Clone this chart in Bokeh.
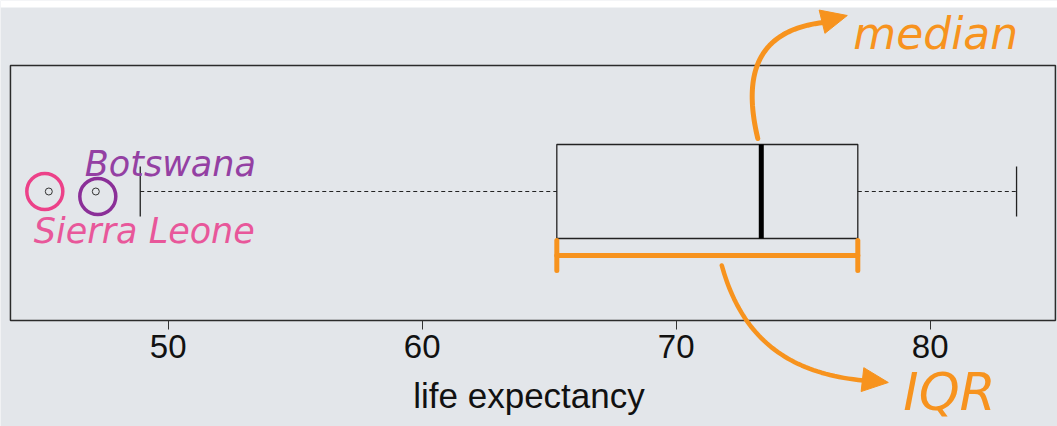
import numpy as np
from bokeh.plotting import figure
from bokeh.models import Range1d, FixedTicker, Label
from bokeh.embed import file_html
from bokeh.resources import INLINE

# ---------------- data ----------------
stat_names = ["lower whisker", "Q1", "median", "Q3", "upper whisker"]
stat_values = [48.9, 65.3, 73.35, 77.15, 83.4]
outlier_countries = ["Sierra Leone", "Botswana"]
outlier_values = [45.3, 47.15]
tick_values = [50, 60, 70, 80]
x_label = "life expectancy"
note_median = "median"
note_iqr = "IQR"

low, q1, med, q3, high = stat_values

# ---------------- layout / style ----------------
W, H = 1057, 426
X0, X1 = 43.398, 85.012          # whole canvas in data units
Y0, Y1 = -106, 320               # whole canvas in data units (1 unit = 1 px)
PX = W / (X1 - X0)               # pixels per data unit along x
BOX_X0, BOX_X1 = 43.79, 84.93    # the plot panel box
BOX_Y0, BOX_Y1 = 0, 255
TOP_STRIP = 7


def dx(px):
    return px / PX


BOX_Y = 129
BOX_HALF = 47
CAP_HALF = 25
BRACKET_Y = 65
BRACKET_HALF = 15

BG = "#e3e6ea"
INK = "#222222"
ORANGE = "#f7931e"
PINK = "#ec4189"
PURPLE = "#8b2f98"
PINK_TXT = "#e8579a"
PURPLE_TXT = "#9440a3"

p = figure(width=W, height=H, x_range=Range1d(X0, X1), y_range=Range1d(Y0, Y1),
           y_axis_type=None, output_backend="svg", toolbar_location=None,
           min_border=0)
p.background_fill_color = BG
p.border_fill_color = BG
p.outline_line_color = None
p.grid.visible = False

# white page strip at the very top
p.quad(left=[X0], right=[X1], bottom=[Y1 - TOP_STRIP], top=[Y1],
       fill_color="white", line_color=None)

ax = p.xaxis[0]
ax.fixed_location = BOX_Y0
ax.ticker = FixedTicker(ticks=tick_values)
ax.minor_tick_line_color = None
ax.major_tick_in = 0
ax.major_tick_out = 9
ax.major_tick_line_color = "#333333"
ax.axis_line_color = None
ax.major_label_text_font = "Liberation Sans"
ax.major_label_text_font_size = "33px"
ax.major_label_text_color = "#111111"
ax.major_label_standoff = 5
ax.axis_label = x_label
ax.axis_label_text_font = "Liberation Sans"
ax.axis_label_text_font_style = "normal"
ax.axis_label_text_font_size = "35px"
ax.axis_label_text_color = "#111111"
ax.axis_label_standoff = 15

# plot panel box
p.quad(left=[BOX_X0], right=[BOX_X1], bottom=[BOX_Y0], top=[BOX_Y1],
       fill_color=None, line_color="#2b2b2b", line_width=1.5)

# ---------------- box plot ----------------
p.quad(left=[q1], right=[q3], bottom=[BOX_Y - BOX_HALF], top=[BOX_Y + BOX_HALF],
       fill_color=None, line_color=INK, line_width=1.3)
p.segment(x0=[q3, low], y0=[BOX_Y, BOX_Y], x1=[high, q1], y1=[BOX_Y, BOX_Y],
          line_color=INK, line_width=1.2, line_dash="4 3")
p.segment(x0=[low, high], y0=[BOX_Y - CAP_HALF] * 2, x1=[low, high],
          y1=[BOX_Y + CAP_HALF] * 2, line_color=INK, line_width=1.3)
p.segment(x0=[med], y0=[BOX_Y - BOX_HALF], x1=[med], y1=[BOX_Y + BOX_HALF],
          line_color="black", line_width=5)
p.scatter(outlier_values, [BOX_Y] * len(outlier_values), size=7,
          fill_color=None, line_color="#333333", line_width=1)

# highlight rings around outliers
ring_x = [outlier_values[0] - dx(4), outlier_values[1] + dx(2)]
ring_y = [BOX_Y, BOX_Y - 5]
p.scatter(ring_x, ring_y, size=36, fill_color=None,
          line_color=[PINK, PURPLE], line_width=3.5)

p.add_layout(Label(x=outlier_values[1] - dx(11), y=BOX_Y + 28, text=outlier_countries[1],
                   text_font="DejaVu Sans", text_font_style="italic",
                   text_font_size="35px", text_color=PURPLE_TXT,
                   text_baseline="alphabetic"))
p.add_layout(Label(x=outlier_values[0] - dx(15), y=BOX_Y - 39, text=outlier_countries[0],
                   text_font="DejaVu Sans", text_font_style="italic",
                   text_font_size="35px", text_color=PINK_TXT,
                   text_baseline="alphabetic"))

# ---------------- IQR bracket ----------------
p.segment(x0=[q1], y0=[BRACKET_Y], x1=[q3], y1=[BRACKET_Y],
          line_color=ORANGE, line_width=5, line_cap="round")
p.segment(x0=[q1, q3], y0=[BRACKET_Y - BRACKET_HALF] * 2, x1=[q1, q3],
          y1=[BRACKET_Y + BRACKET_HALF] * 2, line_color=ORANGE, line_width=5,
          line_cap="round")


def curved_arrow(anchor_x, anchor_y, pts, tip, width, head_len=26, head_half=12):
    t = np.linspace(0, 1, 50)[:, None]
    P = np.array(pts, dtype=float)
    c = ((1 - t) ** 3) * P[0] + 3 * ((1 - t) ** 2) * t * P[1] \
        + 3 * (1 - t) * t ** 2 * P[2] + t ** 3 * P[3]
    p.line(anchor_x + c[:, 0] / PX, anchor_y + c[:, 1], line_color=ORANGE,
           line_width=width, line_cap="round", line_join="round")
    T = np.array(tip, dtype=float)
    d = T - c[-6]
    d /= np.hypot(*d)
    n = np.array([-d[1], d[0]])
    B = T - head_len * d
    tri = np.array([T, B + head_half * n, B - head_half * n])
    p.patch(anchor_x + tri[:, 0] / PX, anchor_y + tri[:, 1], fill_color=ORANGE,
            line_color=ORANGE, line_width=1)


box_top = BOX_Y + BOX_HALF
curved_arrow(med, box_top, [(-3.5, 6), (-18.5, 69), (-5.5, 114), (62, 122)], (86, 129), 5)
mid_iqr = (q1 + q3) / 2
curved_arrow(mid_iqr, BRACKET_Y, [(14.5, -10), (32.5, -75), (72.5, -117), (156, -125)], (181, -127), 4.5)

p.add_layout(Label(x=med + dx(92), y=box_top + 111, text=note_median,
                   text_font="DejaVu Sans", text_font_style="italic",
                   text_font_size="44px", text_color=ORANGE, text_baseline="alphabetic"))
p.add_layout(Label(x=mid_iqr + dx(196), y=BRACKET_Y - 136, text=note_iqr,
                   text_font="DejaVu Sans", text_font_style="italic",
                   text_font_size="52px", text_color=ORANGE, text_baseline="alphabetic"))

open("out.html", "w").write(file_html(p, INLINE))
